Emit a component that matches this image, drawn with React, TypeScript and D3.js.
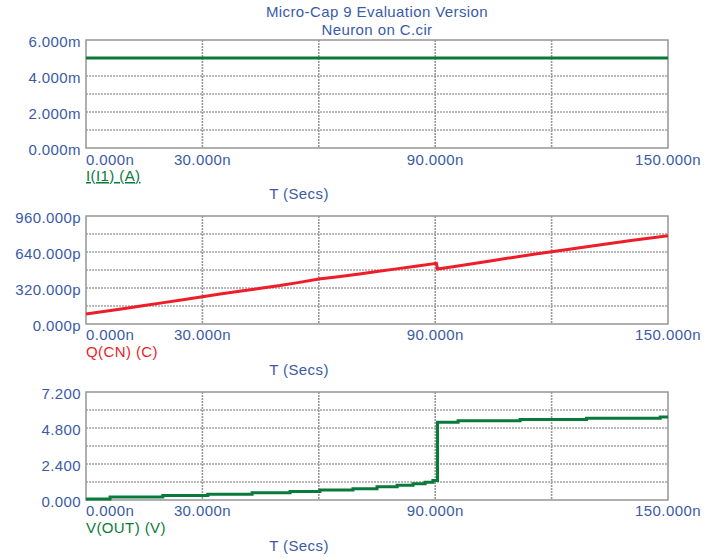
import { useRef, useEffect } from "react";
import * as d3 from "d3";

// time axis (ns), shared by the three panels
const timeTicks = [0, 30, 60, 90, 120, 150];
const timeLabels = ["0.000n", "30.000n", "", "90.000n", "", "150.000n"];

// I(I1) in mA
const iTime = [0, 150];
const iValues = [5, 5];
const iTicks = [0, 1, 2, 3, 4, 5, 6];
const iLabels = ["0.000m", "", "2.000m", "", "4.000m", "", "6.000m"];

// Q(CN) in pC
const qTime = [0, 5, 10, 15, 20, 25, 30, 35, 40, 45, 50, 55, 60, 65, 70, 75, 80, 85, 90.3, 90.6, 95, 100, 105, 110, 115, 120, 125, 130, 135, 140, 145, 150];
const qValues = [89, 113, 138, 165, 190, 216, 243, 268, 293, 318, 342, 370, 400, 420, 443, 467, 490, 513, 539, 489, 512, 538, 565, 592, 618, 643, 667, 692, 716, 740, 763, 785];
const qTicks = [0, 160, 320, 480, 640, 800, 960];
const qLabels = ["0.000p", "", "320.000p", "", "640.000p", "", "960.000p"];

// V(OUT) in V
const vTime = [0, 6.2, 19.8, 31.4, 42.8, 52.6, 60.3, 68.8, 75, 80.2, 84.3, 87.4, 89.4, 90.6, 95.9, 111.9, 129, 148, 150];
const vValues = [0.07, 0.2, 0.3, 0.38, 0.48, 0.57, 0.67, 0.75, 0.88, 0.98, 1.08, 1.18, 1.3, 5.18, 5.29, 5.36, 5.45, 5.54, 5.54];
const vTicks = [0, 1.2, 2.4, 3.6, 4.8, 6, 7.2];
const vLabels = ["0.000", "", "2.400", "", "4.800", "", "7.200"];

const blue = "#3a5ba8";
const green = "#0a7a3c";
const red = "#ee1d27";
const grid = "#a3a3a3";

function App() {
  const svgRef = useRef<SVGSVGElement>(null);

  useEffect(() => {
    const w = 704;
    const h = 558;
    const svg = d3.select(svgRef.current).attr("width", w).attr("height", h);
    svg.selectAll("*").remove();

    const font = "'Liberation Sans', Arial, sans-serif";
    const left = 86;
    const right = 668;
    const x = d3.scaleLinear().domain([0, 150]).range([left, right]);

    // Title
    svg.append("text").attr("x", 377).attr("y", 17).text("Micro-Cap 9 Evaluation Version");
    svg.append("text").attr("x", 377).attr("y", 35).text("Neuron on C.cir");
    svg.selectAll("text")
      .attr("text-anchor", "middle")
      .attr("fill", blue)
      .attr("font-family", font)
      .attr("font-size", 15)
      .attr("letter-spacing", 0.4);

    const panels = [
      { top: 40, times: iTime, values: iValues, ticks: iTicks, labels: iLabels, color: green, name: "I(I1) (A)", underline: true, step: false, xOff: 16.5 },
      { top: 216, times: qTime, values: qValues, ticks: qTicks, labels: qLabels, color: red, name: "Q(CN) (C)", underline: false, step: false, xOff: 16 },
      { top: 392, times: vTime, values: vValues, ticks: vTicks, labels: vLabels, color: green, name: "V(OUT) (V)", underline: false, step: true, xOff: 15.5 },
    ];

    panels.forEach((p) => {
      const bottom = p.top + 108;
      const y = d3
        .scaleLinear()
        .domain([p.ticks[0], p.ticks[p.ticks.length - 1]])
        .range([bottom, p.top]);
      const g = svg.append("g");

      // grid
      g.selectAll(".hg")
        .data(p.ticks.slice(1, -1))
        .enter()
        .append("line")
        .attr("x1", left)
        .attr("x2", right)
        .attr("y1", (d) => y(d))
        .attr("y2", (d) => y(d))
        .attr("stroke", grid)
        .attr("stroke-width", 1.4)
        .attr("stroke-dasharray", "2,1");
      g.selectAll(".vg")
        .data(timeTicks.slice(1, -1))
        .enter()
        .append("line")
        .attr("x1", (d) => x(d))
        .attr("x2", (d) => x(d))
        .attr("y1", p.top)
        .attr("y2", bottom)
        .attr("stroke", "#999")
        .attr("stroke-width", 1.6)
        .attr("stroke-dasharray", "2,1");
      g.append("rect")
        .attr("x", left)
        .attr("y", p.top)
        .attr("width", right - left)
        .attr("height", bottom - p.top)
        .attr("fill", "none")
        .attr("stroke", "#9c9c9c")
        .attr("stroke-width", 1.6);

      // trace
      const line = d3
        .line<number>()
        .x((_, i) => x(p.times[i]))
        .y((d) => y(d))
        .curve(p.step ? d3.curveStepAfter : d3.curveLinear);
      g.append("path")
        .attr("d", line(p.values))
        .attr("fill", "none")
        .attr("stroke", p.color)
        .attr("stroke-width", 3);

      // y labels
      g.selectAll(".yl")
        .data(p.ticks)
        .enter()
        .append("text")
        .attr("x", 81)
        .attr("y", (d) => y(d) + 7)
        .attr("text-anchor", "end")
        .attr("fill", blue)
        .attr("font-family", font)
        .attr("font-size", 15)
        .attr("letter-spacing", 0.4)
        .text((_, i) => p.labels[i]);

      // x labels
      g.selectAll(".xl")
        .data(timeTicks)
        .enter()
        .append("text")
        .attr("x", (d) => x(d))
        .attr("y", bottom + p.xOff)
        .attr("text-anchor", (_, i) => (i === 0 ? "start" : "middle"))
        .attr("fill", blue)
        .attr("font-family", font)
        .attr("font-size", 15)
        .attr("letter-spacing", 0.4)
        .text((_, i) => timeLabels[i]);

      // trace name
      g.append("text")
        .attr("x", left)
        .attr("y", bottom + 33)
        .attr("fill", p.color)
        .attr("font-family", font)
        .attr("font-size", 15)
        .attr("letter-spacing", 0.4)
        .attr("text-decoration", p.underline ? "underline" : "none")
        .text(p.name);

      g.append("text")
        .attr("x", 299)
        .attr("y", bottom + 51)
        .attr("text-anchor", "middle")
        .attr("fill", blue)
        .attr("font-family", font)
        .attr("font-size", 15)
        .attr("letter-spacing", 0.4)
        .text("T (Secs)");
    });
  }, []);

  return (
    <svg
      ref={svgRef}
      style={{ position: "absolute", left: 0, top: 0, background: "#fff" }}
    ></svg>
  );
}

export default App;
